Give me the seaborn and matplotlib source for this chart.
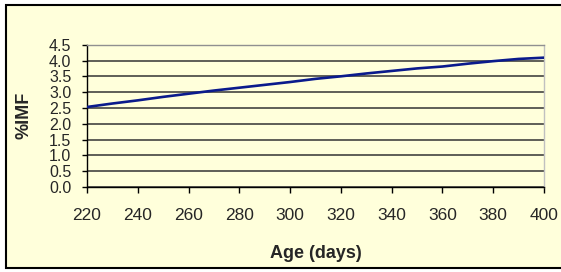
import matplotlib
matplotlib.use("Agg")
import matplotlib.pyplot as plt
import seaborn as sns
import pandas as pd
from matplotlib.patches import Rectangle

age_days = [220, 230, 240, 250, 260, 270, 280, 290, 300, 310, 320, 330, 340, 350, 360, 370, 380, 390, 400]
imf_pct = [2.53, 2.64, 2.74, 2.85, 2.95, 3.05, 3.14, 3.23, 3.32, 3.42, 3.50, 3.59, 3.67, 3.75, 3.81, 3.90, 3.98, 4.05, 4.09]
x_ticks = [220, 240, 260, 280, 300, 320, 340, 360, 380, 400]
y_ticks = [0.0, 0.5, 1.0, 1.5, 2.0, 2.5, 3.0, 3.5, 4.0, 4.5]

df = pd.DataFrame({"Age (days)": age_days, "%IMF": imf_pct})

sns.set_style("white")
plt.rcParams['font.family'] = ['Liberation Sans', 'DejaVu Sans']

bg = '#FFFFDB'
W, H = 561, 272
fig = plt.figure(figsize=(W / 100, H / 100), dpi=100, facecolor='white')
fig.patches.append(Rectangle((5.5 / W, (H - 268) / H), 1.0, (268 - 4.5) / H,
                             transform=fig.transFigure, facecolor=bg,
                             edgecolor='black', linewidth=1.5, zorder=-10))

ax = fig.add_axes([87 / W, (H - 187) / H, (544 - 87) / W, (187 - 44.7) / H])
ax.set_facecolor(bg)
ax.set_zorder(5)

for y in y_ticks:
    ax.axhline(y, color='#333333', linewidth=1.1, zorder=1)

sns.lineplot(data=df, x="Age (days)", y="%IMF", ax=ax, color='#0A1A8C',
             linewidth=1.9, zorder=3)

ax.set_xlim(220, 400)
ax.set_ylim(0, 4.5)
ax.set_xticks(x_ticks)
ax.set_yticks(y_ticks)
ax.set_yticklabels([f"{v:.1f}" for v in y_ticks])
ax.tick_params(axis='y', direction='out', length=3.8, width=1, pad=7.5,
               labelsize=11.5, left=True, color='black')
ax.tick_params(axis='x', direction='out', length=4.3, width=1, pad=11,
               labelsize=12.5, bottom=True, color='black')

ax.spines['top'].set_color('#909090')
ax.spines['right'].set_color('#c0c0c0')
ax.spines['left'].set_color('black')
ax.spines['bottom'].set_color('black')
for s in ax.spines.values():
    s.set_linewidth(1.0)

ax.set_xlabel("Age (days)", fontsize=13, fontweight='bold')
ax.set_ylabel("%IMF", fontsize=13, fontweight='bold')
ax.xaxis.set_label_coords(0.5, -0.405)
ax.yaxis.set_label_coords(-0.12, 0.5)

fig.savefig("out.png", dpi=100, facecolor='white')
